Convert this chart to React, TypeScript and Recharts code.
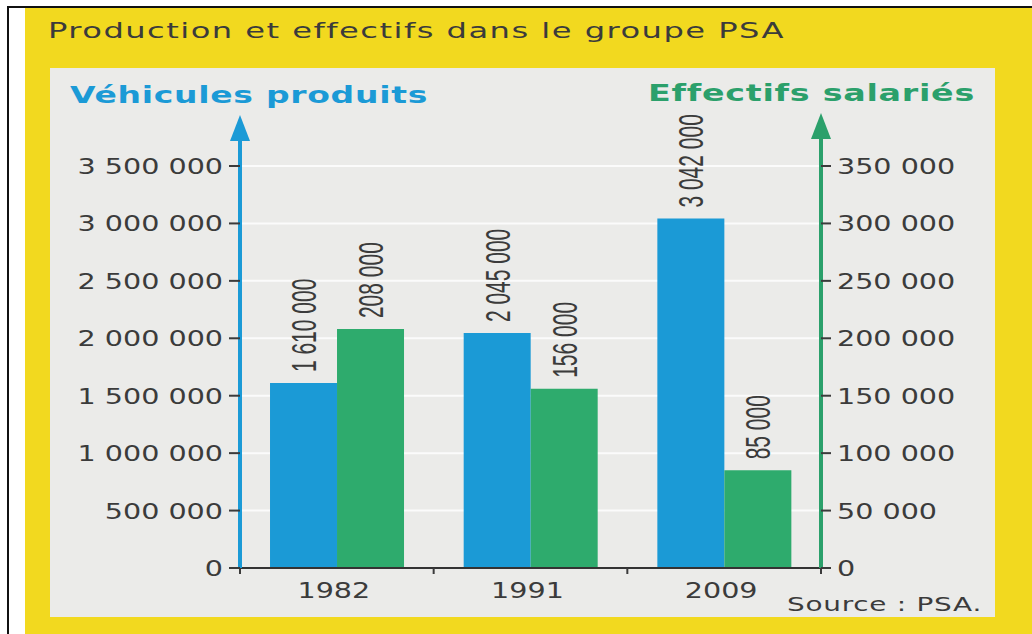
import React from 'react';
import { BarChart, Bar, XAxis, YAxis, CartesianGrid, LabelList } from 'recharts';

const years = ['1982', '1991', '2009'];
const vehicules = [1610000, 2045000, 3042000];
const effectifs = [208000, 156000, 85000];
const vehTicks = [0, 500000, 1000000, 1500000, 2000000, 2500000, 3000000, 3500000];
const effTicks = [0, 50000, 100000, 150000, 200000, 250000, 300000, 350000];

const BLUE = '#1b9ad6';
const GREEN = '#2eab6d';
const AXIS_GREEN = '#2ba06b';
const INK = '#3b3b3b';
const FONT = '"DejaVu Sans", sans-serif';

const rows = years.map((year, i) => ({ year, vehicules: vehicules[i], effectifs: effectifs[i] }));

// "1610000" -> "1 610 000"
const fmt = (n: number) => String(n).replace(/\B(?=(\d{3})+(?!\d))/g, ' ');

const arrow = (x: number, y: number, color: string, tipGap: number) => (
  <g>
    <line x1={x} y1={y} x2={x} y2={y - tipGap + 20} stroke={color} strokeWidth={4} />
    <polygon points={`${x},${y - tipGap} ${x - 10},${y - tipGap + 26} ${x + 10},${y - tipGap + 26}`} fill={color} />
  </g>
);

const LeftTick = (props: any) => {
  const { x, y, payload } = props;
  const top = payload.value === vehTicks[vehTicks.length - 1];
  return (
    <g>
      {top && arrow(x, y, BLUE, 51)}
      <line x1={x - 11} y1={y} x2={x} y2={y} stroke={INK} strokeWidth={2} />
      <text transform={`translate(${x - 17},${y}) scale(1.3,1)`} textAnchor="end" dy={8}
        fontSize={22} fontFamily={FONT} fill={INK}>
        {fmt(payload.value)}
      </text>
    </g>
  );
};

const RightTick = (props: any) => {
  const { x, y, payload } = props;
  const top = payload.value === effTicks[effTicks.length - 1];
  return (
    <g>
      {top && arrow(x, y, AXIS_GREEN, 53)}
      <line x1={x} y1={y} x2={x + 10} y2={y} stroke={INK} strokeWidth={2} />
      <text transform={`translate(${x + 16},${y}) scale(1.3,1)`} textAnchor="start" dy={8}
        fontSize={22} fontFamily={FONT} fill={INK}>
        {fmt(payload.value)}
      </text>
    </g>
  );
};

const YearTick = (props: any) => {
  const { x, y, payload, width, visibleTicksCount } = props;
  const half = payload.offset || width / (2 * visibleTicksCount);
  return (
    <g>
      {payload.index === 0 && <line x1={x - half} y1={y} x2={x - half} y2={y + 6} stroke={INK} strokeWidth={2} />}
      <line x1={x + half} y1={y} x2={x + half} y2={y + 6} stroke={INK} strokeWidth={2} />
      <text transform={`translate(${x - 3},${y + 30}) scale(1.3,1)`} textAnchor="middle"
        fontSize={22} fontFamily={FONT} fill={INK}>
        {payload.value}
      </text>
    </g>
  );
};

const ValueLabel = (props: any) => {
  const { x, y, width, value } = props;
  return (
    <text transform={`translate(${x + width / 2},${y - 11}) rotate(-90) scale(0.6,1)`}
      textAnchor="start" dy="0.36em" fontSize={35}
      fontFamily='"Liberation Sans", Arial, sans-serif' fill={INK}>
      {fmt(value)}
    </text>
  );
};

export default function App() {
  return (
    <div style={{ position: 'absolute', left: 0, top: 0, width: 1032, height: 634, background: '#fff', overflow: 'hidden' }}>
      <div style={{ position: 'absolute', left: 7, top: 6, width: 2, height: 628, background: '#111' }} />
      <div style={{ position: 'absolute', left: 7, top: 6, width: 1025, height: 2, background: '#111' }} />
      <div style={{ position: 'absolute', left: 25, top: 8, width: 1007, height: 626, background: '#f2d91f' }} />
      <div style={{ position: 'absolute', left: 50, top: 68, width: 945, height: 549, background: '#ebebe9' }} />

      <svg width={1032} height={634} style={{ position: 'absolute', left: 0, top: 0 }}>
        <text x={48} y={38} fontSize={22} letterSpacing={1} textLength={737} lengthAdjust="spacingAndGlyphs"
          fontFamily={FONT} fill={INK}>
          Production et effectifs dans le groupe PSA
        </text>
        <text x={70} y={103} fontSize={23} fontWeight="bold" letterSpacing={0.5} textLength={358}
          lengthAdjust="spacingAndGlyphs" fontFamily={FONT} fill={BLUE}>
          Véhicules produits
        </text>
        <text x={648} y={101} fontSize={23} fontWeight="bold" letterSpacing={0.5} textLength={327}
          lengthAdjust="spacingAndGlyphs" fontFamily={FONT} fill={AXIS_GREEN}>
          Effectifs salariés
        </text>
        <text x={787} y={611} fontSize={19} letterSpacing={0.5} textLength={195} lengthAdjust="spacingAndGlyphs"
          fontFamily={FONT} fill={INK}>
          Source : PSA.
        </text>
      </svg>

      <div style={{ position: 'absolute', left: 0, top: 0 }}>
        <BarChart width={1032} height={634} data={rows}
          margin={{ top: 166, right: 71, bottom: 26, left: 60 }}
          barCategoryGap="15.5%" barGap={0}>
          <CartesianGrid yAxisId="v" vertical={false} stroke="#fbfbfb" strokeWidth={2} />
          <XAxis dataKey="year" height={40} interval={0} tickSize={0} tickMargin={0}
            axisLine={{ stroke: '#333', strokeWidth: 2 }} tickLine={false} tick={YearTick} />
          <YAxis yAxisId="v" orientation="left" width={180} domain={[0, 3500000]} ticks={vehTicks}
            interval={0} tickSize={0} tickMargin={0} tickLine={false}
            axisLine={{ stroke: BLUE, strokeWidth: 4 }} tick={LeftTick} />
          <YAxis yAxisId="e" orientation="right" width={140} domain={[0, 350000]} ticks={effTicks}
            interval={0} tickSize={0} tickMargin={0} tickLine={false}
            axisLine={{ stroke: AXIS_GREEN, strokeWidth: 4 }} tick={RightTick} />
          <Bar yAxisId="v" dataKey="vehicules" fill={BLUE} isAnimationActive={false}>
            <LabelList dataKey="vehicules" content={ValueLabel} />
          </Bar>
          <Bar yAxisId="e" dataKey="effectifs" fill={GREEN} isAnimationActive={false}>
            <LabelList dataKey="effectifs" content={ValueLabel} />
          </Bar>
        </BarChart>
      </div>
    </div>
  );
}
